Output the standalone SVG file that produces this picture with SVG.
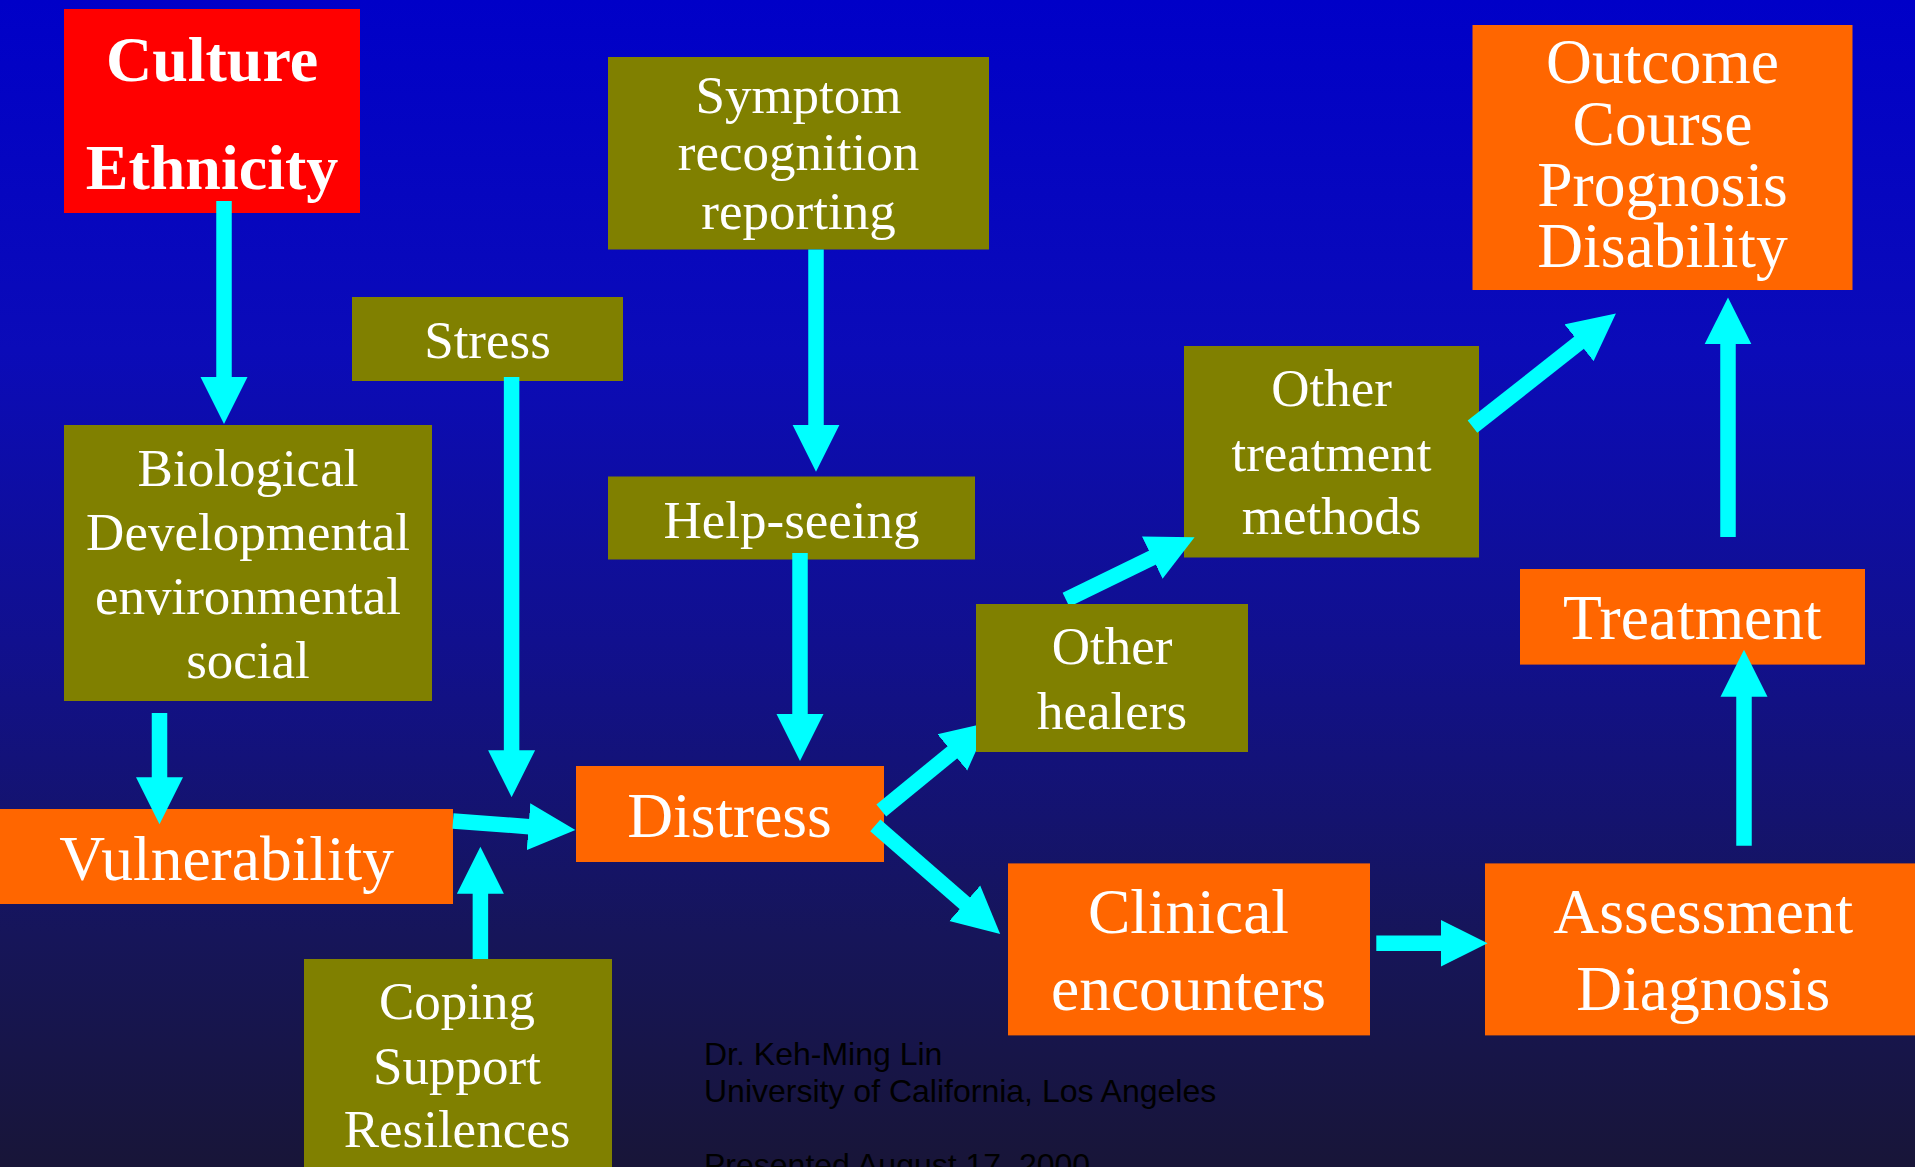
<svg xmlns="http://www.w3.org/2000/svg" width="1915" height="1167" viewBox="0 0 1915 1167">
<defs>
<linearGradient id="bg" x1="0" y1="0" x2="0" y2="1">
<stop offset="0" stop-color="#0000C8"/>
<stop offset="0.3" stop-color="#0B0BB8"/>
<stop offset="0.55" stop-color="#11108E"/>
<stop offset="0.8" stop-color="#16155A"/>
<stop offset="1" stop-color="#181538"/>
</linearGradient>
<marker id="ah" viewBox="0 -24 48 48" refX="1" refY="0" markerWidth="48" markerHeight="48" markerUnits="userSpaceOnUse" orient="auto">
<path d="M0,-23.5 L47,0 L0,23.5 Z" fill="#00FFFF"/>
</marker>
<style>
.olive{fill:#808000}
.orange{fill:#FF6600}
.red{fill:#FF0000}
.t{font-family:"Liberation Serif","Times New Roman",serif;fill:#FFFFFF;text-anchor:middle}
.s{font-size:53px}
.b{font-size:63.5px}
.bold{font-size:64px;font-weight:bold}
.c{stroke:#00FFFF;stroke-width:15.5;fill:none;marker-end:url(#ah)}
.f{font-family:"Liberation Sans",Arial,sans-serif;font-size:32px;fill:#000000}
</style>
</defs>
<rect x="0" y="0" width="1915" height="1167" fill="url(#bg)"/>

<g id="culture"><rect class="red" x="64" y="9" width="296" height="204"/>
<text class="t bold" x="212" y="81">Culture</text><text class="t bold" x="212" y="189">Ethnicity</text></g>

<g id="symptom"><rect class="olive" x="608" y="57" width="381" height="192.5"/>
<text class="t s" x="798.5" y="113">Symptom</text><text class="t s" x="798.5" y="170">recognition</text><text class="t s" x="798.5" y="228.5">reporting</text></g>

<g id="stress"><rect class="olive" x="352" y="297" width="271" height="84"/>
<text class="t s" x="487.5" y="358">Stress</text></g>

<g id="biological"><rect class="olive" x="64" y="425" width="368" height="276"/>
<text class="t s" x="248" y="486">Biological</text><text class="t s" x="248" y="550">Developmental</text><text class="t s" x="248" y="614">environmental</text><text class="t s" x="248" y="677.5">social</text></g>

<g id="helpseeing"><rect class="olive" x="608" y="476.5" width="367" height="83"/>
<text class="t s" x="791.5" y="537.7">Help-seeing</text></g>

<g id="vulnerability"><rect class="orange" x="0" y="809" width="453" height="95"/>
<text class="t b" x="226.6" y="879.5">Vulnerability</text></g>

<g id="distress"><rect class="orange" x="576" y="766" width="308" height="96"/>
<text class="t b" x="729.5" y="836.5">Distress</text></g>

<g id="coping"><rect class="olive" x="304" y="959" width="308" height="215"/>
<text class="t s" x="457" y="1018.8">Coping</text><text class="t s" x="457" y="1083.6">Support</text><text class="t s" x="457" y="1147.2">Resilences</text></g>

<g id="othertreatment"><rect class="olive" x="1184" y="346" width="295" height="211.5"/>
<text class="t s" x="1331.5" y="406.4">Other</text><text class="t s" x="1331.5" y="470.7">treatment</text><text class="t s" x="1331.5" y="533.9">methods</text></g>

<g id="outcome"><rect class="orange" x="1472.5" y="25" width="380" height="265"/>
<text class="t b" x="1662.5" y="83">Outcome</text><text class="t b" x="1662.5" y="144.7">Course</text><text class="t b" x="1662.5" y="206">Prognosis</text><text class="t b" x="1662.5" y="266.7">Disability</text></g>

<g id="treatment"><rect class="orange" x="1520" y="569" width="345" height="95.6"/>
<text class="t b" x="1692.3" y="639.2">Treatment</text></g>

<g id="clinical"><rect class="orange" x="1008" y="863.4" width="362" height="172"/>
<text class="t b" x="1188.5" y="933">Clinical</text><text class="t b" x="1188.5" y="1009.8">encounters</text></g>

<g id="assessment"><rect class="orange" x="1485" y="863.4" width="440" height="172"/>
<text class="t b" x="1703.3" y="933">Assessment</text><text class="t b" x="1703.3" y="1009.8">Diagnosis</text></g>

<g id="connectors">
<line class="c" x1="224" y1="201" x2="224" y2="378"/>
<line class="c" x1="511.6" y1="377" x2="511.6" y2="751.3"/>
<line class="c" x1="816" y1="249.5" x2="816" y2="425.8"/>
<line class="c" x1="800" y1="553" x2="800" y2="715"/>
<line class="c" x1="159.5" y1="712.9" x2="159.5" y2="778.3"/>
<line class="c" x1="480.4" y1="958.9" x2="480.4" y2="892.7"/>
<line class="c" x1="1728" y1="537" x2="1728" y2="343.4"/>
<line class="c" x1="1744" y1="845.8" x2="1744" y2="695.8"/>
<line class="c" x1="1376.3" y1="943.2" x2="1441.6" y2="943.2"/>
<line class="c" x1="453" y1="821" x2="529.5" y2="826.7"/>
<line class="c" x1="881.3" y1="810.5" x2="953.1" y2="751.7"/>
<line class="c" x1="875.3" y1="825.3" x2="965.5" y2="903.9"/>
<line class="c" x1="1066" y1="599.7" x2="1153.2" y2="557.3"/>
<line class="c" x1="1472.5" y1="426.7" x2="1579.8" y2="342.1"/>
</g>

<g id="otherhealers"><rect class="olive" x="976" y="604" width="272" height="148"/>
<text class="t s" x="1112" y="664.2">Other</text><text class="t s" x="1112" y="728.6">healers</text></g>

<g id="footer">
<text class="f" x="704" y="1065">Dr. Keh-Ming Lin</text>
<text class="f" x="704" y="1102">University of California, Los Angeles</text>
<text class="f" x="704" y="1176">Presented August 17, 2000</text>
</g>
</svg>
